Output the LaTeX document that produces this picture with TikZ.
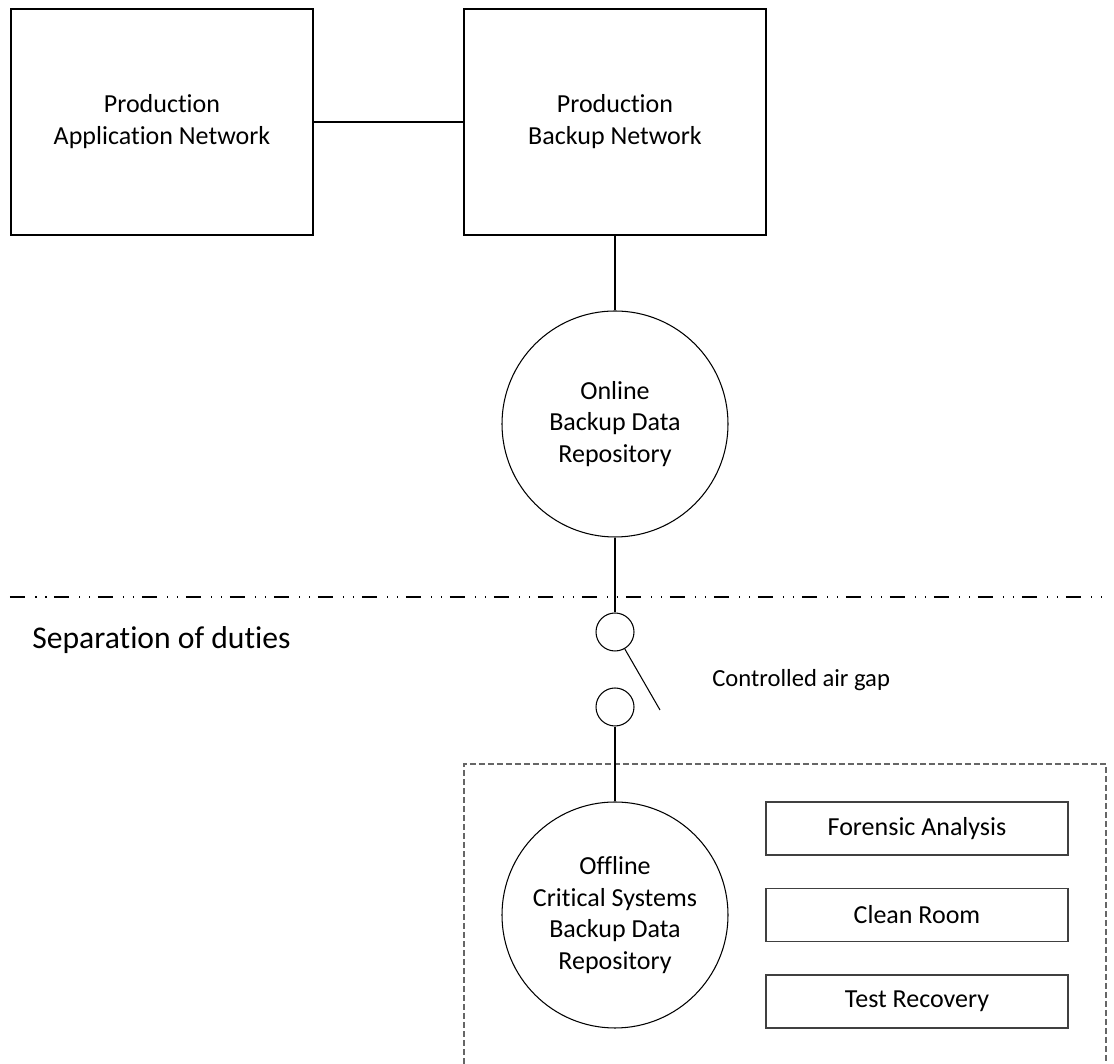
\documentclass[tikz,border=0pt]{standalone}
\usepackage{fontspec}
\setmainfont{Carlito}[Ligatures=CommonOff]
\tikzset{
  netbox/.style={draw, line width=0.6pt, minimum width=6.04cm, minimum height=4.52cm, align=center, font=\fontsize{14.8}{18.2}\selectfont},
  repo/.style={draw, circle, line width=0.6pt, minimum size=4.52cm, inner sep=0pt, align=center, font=\fontsize{14.8}{18}\selectfont},
  gapnode/.style={draw, circle, line width=0.6pt, minimum size=0.76cm, inner sep=0pt},
  taskbox/.style={draw=black!75, line width=0.7pt, minimum width=6.04cm, minimum height=1.06cm, font=\fontsize{14.8}{18}\selectfont},
  link/.style={line width=1pt},
  sepline/.style={line width=0.9pt, dash pattern=on 0.3cm off 0.2cm on 0.03cm off 0.17cm on 0.03cm off 0.15cm},
  offbox/.style={draw=black!60, line width=0.6pt, dash pattern=on 0.12cm off 0.06cm}
}
\begin{document}
\begin{tikzpicture}
    \useasboundingbox (0,0) rectangle (22.28,21.28);

    \node[netbox] (appnet) at (3.24,18.84) {Production\\Application Network};
    \node[netbox] (bkpnet) at (12.3,18.84) {Production\\Backup Network};
    \draw[link] (appnet) -- (bkpnet);

    \node[repo] (online) at (12.3,12.8) {Online\\Backup Data\\Repository};
    \draw[link] (bkpnet) -- (online);

    \draw[sepline] (0.2,9.34) -- (22.12,9.34);
    \node[anchor=west, inner sep=0pt, font=\fontsize{18}{22}\selectfont] (sep) at (0.64,8.48) {Separation of duties};

    \node[gapnode] (gaptop) at (12.3,8.64) {};
    \node[gapnode] (gapbot) at (12.3,7.14) {};
    \coordinate (lever) at (13.2,7.08);
    \draw[link] (online) -- (gaptop);
    \draw[line width=0.6pt] (gaptop.-60) -- (lever);
    \node[anchor=west, inner sep=0pt, font=\fontsize{14}{17}\selectfont] (airgap) at (14.24,7.68) {Controlled air gap};

    \draw[offbox] (9.28,0) |- (22.12,6.0) -- (22.12,0);
    \node[repo] (offline) at (12.3,2.98) {Offline\\Critical Systems\\Backup Data\\Repository};
    \draw[link] (gapbot) -- (offline);

    \node[taskbox] (forensic) at (18.34,4.71) {Forensic Analysis};
    \node[taskbox] (cleanroom) at (18.34,2.98) {Clean Room};
    \node[taskbox] (testrec) at (18.34,1.25) {Test Recovery};
\end{tikzpicture}
\end{document}
